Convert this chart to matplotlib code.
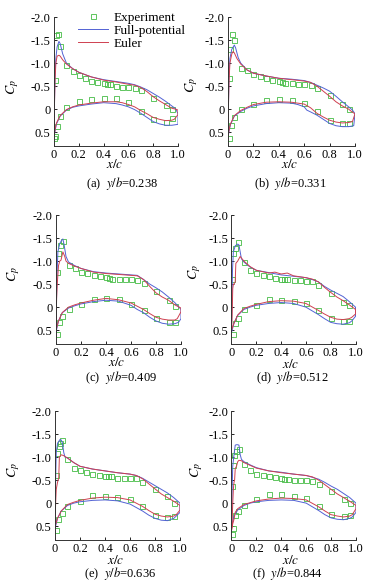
import matplotlib.pyplot as plt
import numpy as np

plt.rcParams['font.family'] = ['Liberation Serif', 'DejaVu Serif']
plt.rcParams['mathtext.fontset'] = 'stix'

# ---------------- data (Cp vs x/c) ----------------
# (a) y/b=0.238
a_exp_up_x = [0.008, 0.016, 0.035, 0.05, 0.1, 0.15, 0.2, 0.25, 0.3, 0.35, 0.4, 0.425, 0.45, 0.5, 0.55, 0.6, 0.65, 0.7, 0.8, 0.9, 0.95]
a_exp_up_cp = [-0.63, -1.62, -1.63, -1.37, -0.96, -0.83, -0.75, -0.68, -0.62, -0.59, -0.57, -0.55, -0.54, -0.51, -0.49, -0.49, -0.46, -0.42, -0.25, -0.10, 0.0]
a_exp_lo_x = [0.0, 0.005, 0.027, 0.05, 0.1, 0.2, 0.3, 0.4, 0.5, 0.6, 0.7, 0.8, 0.9, 0.95]
a_exp_lo_cp = [0.63, 0.59, 0.36, 0.15, -0.04, -0.17, -0.22, -0.24, -0.24, -0.16, 0.05, 0.21, 0.28, 0.19]
a_fp_up_x = [0.0, 0.003, 0.008, 0.015, 0.025, 0.04, 0.05, 0.07, 0.1, 0.15, 0.2, 0.3, 0.4, 0.5, 0.6, 0.65, 0.7, 0.75, 0.8, 0.85, 0.9, 0.95, 0.98, 1.0]
a_fp_up_cp = [0.6, 0.0, -0.7, -1.1, -1.35, -1.47, -1.42, -1.2, -1.0, -0.88, -0.8, -0.7, -0.64, -0.6, -0.56, -0.53, -0.48, -0.42, -0.34, -0.26, -0.17, -0.07, -0.01, 0.1]
a_fp_lo_x = [0.0, 0.01, 0.02, 0.05, 0.1, 0.15, 0.2, 0.3, 0.4, 0.5, 0.55, 0.6, 0.65, 0.7, 0.75, 0.8, 0.85, 0.9, 0.95, 1.0]
a_fp_lo_cp = [0.6, 0.45, 0.32, 0.15, 0.02, -0.04, -0.07, -0.11, -0.14, -0.12, -0.09, -0.05, 0.01, 0.09, 0.18, 0.27, 0.32, 0.35, 0.35, 0.33]
a_eu_up_x = [0.0, 0.003, 0.008, 0.015, 0.025, 0.04, 0.05, 0.07, 0.1, 0.15, 0.2, 0.3, 0.4, 0.5, 0.6, 0.65, 0.7, 0.75, 0.8, 0.85, 0.9, 0.95, 0.98, 1.0]
a_eu_up_cp = [0.6, 0.0, -0.6, -1.0, -1.15, -1.17, -1.15, -1.07, -0.98, -0.88, -0.8, -0.7, -0.63, -0.59, -0.54, -0.52, -0.47, -0.38, -0.27, -0.18, -0.1, -0.02, 0.0, 0.02]
a_eu_lo_x = [0.0, 0.01, 0.02, 0.05, 0.1, 0.15, 0.2, 0.3, 0.4, 0.5, 0.55, 0.6, 0.65, 0.7, 0.75, 0.8, 0.85, 0.9, 0.95, 0.97, 1.0]
a_eu_lo_cp = [0.6, 0.42, 0.3, 0.14, 0.01, -0.05, -0.09, -0.13, -0.16, -0.16, -0.14, -0.1, -0.05, 0.03, 0.1, 0.18, 0.22, 0.25, 0.24, 0.22, 0.12]

# (b) y/b=0.331
b_exp_up_x = [0.005, 0.016, 0.03, 0.047, 0.1, 0.15, 0.2, 0.25, 0.3, 0.35, 0.4, 0.425, 0.45, 0.5, 0.55, 0.6, 0.65, 0.7, 0.8, 0.9, 0.95]
b_exp_up_cp = [-0.67, -1.30, -1.63, -1.50, -0.89, -0.85, -0.77, -0.72, -0.67, -0.63, -0.61, -0.59, -0.57, -0.56, -0.55, -0.54, -0.53, -0.45, -0.30, -0.12, -0.01]
b_exp_lo_x = [0.005, 0.02, 0.047, 0.1, 0.2, 0.3, 0.4, 0.5, 0.6, 0.7, 0.8, 0.9, 0.95]
b_exp_lo_cp = [0.62, 0.35, 0.17, 0.0, -0.12, -0.20, -0.21, -0.20, -0.14, 0.05, 0.24, 0.30, 0.30]
b_fp_up_x = [0.0, 0.003, 0.008, 0.015, 0.03, 0.05, 0.06, 0.08, 0.1, 0.15, 0.2, 0.3, 0.4, 0.5, 0.6, 0.65, 0.7, 0.75, 0.8, 0.85, 0.9, 0.95, 0.98, 1.0]
b_fp_up_cp = [0.6, 0.0, -0.7, -1.1, -1.3, -1.39, -1.33, -1.12, -1.0, -0.85, -0.78, -0.72, -0.67, -0.65, -0.62, -0.58, -0.52, -0.46, -0.39, -0.28, -0.16, -0.05, 0.02, 0.1]
b_fp_lo_x = [0.0, 0.01, 0.02, 0.05, 0.1, 0.15, 0.2, 0.3, 0.4, 0.5, 0.55, 0.6, 0.62, 0.65, 0.7, 0.75, 0.8, 0.85, 0.9, 0.95, 0.99]
b_fp_lo_cp = [0.6, 0.45, 0.33, 0.15, 0.05, -0.02, -0.07, -0.12, -0.14, -0.13, -0.1, -0.05, 0.02, 0.06, 0.13, 0.22, 0.31, 0.36, 0.38, 0.38, 0.36]
b_eu_up_x = [0.0, 0.003, 0.008, 0.015, 0.03, 0.04, 0.05, 0.07, 0.1, 0.15, 0.2, 0.3, 0.4, 0.5, 0.6, 0.65, 0.7, 0.75, 0.8, 0.85, 0.9, 0.95, 0.976, 1.0]
b_eu_up_cp = [0.6, 0.0, -0.6, -1.0, -1.2, -1.25, -1.22, -1.1, -0.98, -0.85, -0.78, -0.72, -0.67, -0.64, -0.61, -0.58, -0.5, -0.39, -0.28, -0.16, -0.07, 0.0, 0.06, 0.1]
b_eu_lo_x = [0.0, 0.01, 0.02, 0.05, 0.1, 0.15, 0.2, 0.3, 0.4, 0.5, 0.6, 0.65, 0.7, 0.75, 0.8, 0.85, 0.9, 0.95, 0.98, 1.0]
b_eu_lo_cp = [0.6, 0.43, 0.32, 0.14, 0.03, -0.04, -0.1, -0.15, -0.16, -0.15, -0.11, -0.03, 0.09, 0.17, 0.24, 0.28, 0.3, 0.29, 0.27, 0.1]

# (c) y/b=0.409
c_exp_up_x = [0.01, 0.016, 0.03, 0.056, 0.1, 0.15, 0.2, 0.25, 0.3, 0.35, 0.4, 0.425, 0.45, 0.5, 0.55, 0.6, 0.65, 0.7, 0.8, 0.9, 0.95]
c_exp_up_cp = [-0.77, -1.18, -1.34, -1.43, -0.92, -0.86, -0.77, -0.74, -0.69, -0.67, -0.65, -0.63, -0.61, -0.61, -0.61, -0.61, -0.58, -0.52, -0.36, -0.15, -0.03]
c_exp_lo_x = [0.01, 0.025, 0.05, 0.1, 0.2, 0.3, 0.4, 0.5, 0.6, 0.7, 0.8, 0.9, 0.95]
c_exp_lo_cp = [0.58, 0.32, 0.20, 0.04, -0.07, -0.17, -0.20, -0.17, -0.06, 0.06, 0.23, 0.32, 0.32]
c_fp_up_x = [0.0, 0.003, 0.008, 0.015, 0.03, 0.045, 0.055, 0.065, 0.08, 0.1, 0.15, 0.2, 0.3, 0.4, 0.5, 0.6, 0.65, 0.7, 0.75, 0.8, 0.85, 0.9, 0.95, 1.0]
c_fp_up_cp = [0.55, 0.0, -0.7, -1.2, -1.38, -1.45, -1.48, -1.35, -1.1, -0.98, -0.9, -0.84, -0.77, -0.74, -0.72, -0.7, -0.69, -0.6, -0.5, -0.42, -0.33, -0.22, -0.1, 0.05]
c_fp_lo_x = [0.0, 0.01, 0.02, 0.05, 0.1, 0.15, 0.2, 0.3, 0.4, 0.5, 0.6, 0.65, 0.7, 0.75, 0.8, 0.85, 0.9, 0.95, 0.98, 1.0]
c_fp_lo_cp = [0.55, 0.42, 0.3, 0.12, 0.02, -0.03, -0.07, -0.12, -0.15, -0.13, -0.04, 0.05, 0.12, 0.22, 0.3, 0.35, 0.37, 0.36, 0.33, 0.25]
c_eu_up_x = [0.0, 0.005, 0.01, 0.02, 0.03, 0.04, 0.055, 0.07, 0.08, 0.1, 0.15, 0.2, 0.3, 0.4, 0.5, 0.6, 0.65, 0.7, 0.75, 0.8, 0.85, 0.9, 0.95, 1.0]
c_eu_up_cp = [0.5, -0.2, -0.5, -0.9, -1.0, -1.02, -1.2, -1.1, -1.0, -0.95, -0.89, -0.84, -0.76, -0.73, -0.71, -0.69, -0.68, -0.6, -0.45, -0.31, -0.22, -0.15, -0.05, 0.02]
c_eu_lo_x = [0.0, 0.01, 0.02, 0.05, 0.1, 0.15, 0.2, 0.3, 0.4, 0.5, 0.6, 0.7, 0.75, 0.8, 0.85, 0.9, 0.95, 0.97, 1.0]
c_eu_lo_cp = [0.5, 0.4, 0.3, 0.12, 0.0, -0.05, -0.09, -0.15, -0.19, -0.16, -0.09, 0.05, 0.14, 0.22, 0.26, 0.28, 0.28, 0.25, 0.1]

# (d) y/b=0.512
d_exp_up_x = [0.005, 0.016, 0.03, 0.054, 0.1, 0.15, 0.2, 0.25, 0.3, 0.35, 0.4, 0.425, 0.45, 0.5, 0.55, 0.6, 0.65, 0.7, 0.8, 0.9, 0.95]
d_exp_up_cp = [-0.60, -1.17, -1.28, -1.42, -0.98, -0.81, -0.74, -0.69, -0.67, -0.64, -0.62, -0.61, -0.61, -0.58, -0.58, -0.57, -0.56, -0.47, -0.31, -0.12, -0.04]
d_exp_lo_x = [0.01, 0.027, 0.054, 0.1, 0.2, 0.3, 0.4, 0.5, 0.6, 0.7, 0.8, 0.9, 0.95]
d_exp_lo_cp = [0.58, 0.34, 0.23, 0.04, -0.05, -0.18, -0.16, -0.13, -0.08, 0.07, 0.24, 0.31, 0.30]
d_fp_up_x = [0.0, 0.003, 0.008, 0.015, 0.03, 0.05, 0.06, 0.07, 0.08, 0.1, 0.15, 0.2, 0.3, 0.4, 0.5, 0.6, 0.65, 0.7, 0.75, 0.8, 0.85, 0.9, 0.95, 1.0]
d_fp_up_cp = [0.55, 0.0, -0.8, -1.2, -1.33, -1.37, -1.35, -1.2, -1.05, -0.98, -0.87, -0.8, -0.75, -0.7, -0.67, -0.64, -0.6, -0.55, -0.45, -0.37, -0.3, -0.23, -0.12, 0.0]
d_fp_lo_x = [0.0, 0.01, 0.02, 0.05, 0.1, 0.15, 0.2, 0.3, 0.4, 0.5, 0.6, 0.7, 0.75, 0.8, 0.85, 0.9, 0.95, 0.97, 1.0]
d_fp_lo_cp = [0.55, 0.45, 0.35, 0.18, 0.05, 0.0, -0.04, -0.08, -0.1, -0.08, 0.0, 0.16, 0.25, 0.33, 0.36, 0.37, 0.34, 0.3, 0.2]
d_eu_up_x = [0.0, 0.005, 0.01, 0.015, 0.02, 0.03, 0.035, 0.05, 0.07, 0.1, 0.15, 0.2, 0.3, 0.35, 0.4, 0.45, 0.5, 0.6, 0.65, 0.7, 0.75, 0.8, 0.85, 0.9, 0.95, 1.0]
d_eu_up_cp = [0.5, 0.2, -0.4, -0.5, -0.5, -0.55, -0.95, -1.0, -1.1, -1.0, -0.88, -0.8, -0.74, -0.76, -0.72, -0.74, -0.68, -0.64, -0.61, -0.55, -0.43, -0.32, -0.22, -0.14, -0.05, 0.05]
d_eu_lo_x = [0.0, 0.01, 0.02, 0.05, 0.1, 0.15, 0.2, 0.3, 0.4, 0.5, 0.6, 0.7, 0.75, 0.8, 0.85, 0.9, 0.95, 0.97, 1.0]
d_eu_lo_cp = [0.5, 0.42, 0.35, 0.17, 0.03, -0.02, -0.06, -0.12, -0.14, -0.13, -0.08, 0.07, 0.15, 0.22, 0.26, 0.27, 0.25, 0.22, 0.15]

# (e) y/b=0.636
e_exp_up_x = [0.01, 0.016, 0.03, 0.04, 0.053, 0.1, 0.15, 0.2, 0.25, 0.3, 0.35, 0.4, 0.425, 0.45, 0.5, 0.55, 0.6, 0.65, 0.7, 0.8, 0.9, 0.95]
e_exp_up_cp = [-0.62, -1.09, -1.24, -1.31, -1.38, -0.95, -0.77, -0.72, -0.67, -0.64, -0.61, -0.60, -0.58, -0.58, -0.55, -0.55, -0.55, -0.54, -0.45, -0.30, -0.16, -0.01]
e_exp_lo_x = [0.01, 0.027, 0.053, 0.1, 0.2, 0.3, 0.4, 0.5, 0.6, 0.7, 0.8, 0.9, 0.95]
e_exp_lo_cp = [0.58, 0.34, 0.22, 0.07, -0.05, -0.17, -0.16, -0.13, -0.08, 0.07, 0.25, 0.30, 0.28]
e_fp_up_x = [0.0, 0.005, 0.01, 0.02, 0.04, 0.05, 0.06, 0.07, 0.08, 0.1, 0.15, 0.2, 0.3, 0.4, 0.5, 0.6, 0.65, 0.7, 0.75, 0.8, 0.85, 0.9, 0.95, 1.0]
e_fp_up_cp = [0.55, -0.5, -1.1, -1.3, -1.38, -1.37, -1.3, -1.1, -1.0, -0.98, -0.88, -0.8, -0.74, -0.7, -0.66, -0.63, -0.6, -0.54, -0.46, -0.38, -0.3, -0.22, -0.12, 0.0]
e_fp_lo_x = [0.0, 0.01, 0.02, 0.05, 0.1, 0.15, 0.2, 0.3, 0.4, 0.5, 0.6, 0.7, 0.75, 0.8, 0.85, 0.9, 0.95, 0.97, 1.0]
e_fp_lo_cp = [0.55, 0.44, 0.33, 0.17, 0.05, 0.0, -0.03, -0.06, -0.07, -0.05, 0.02, 0.17, 0.26, 0.33, 0.37, 0.38, 0.33, 0.28, 0.2]
e_eu_up_x = [0.0, 0.005, 0.01, 0.02, 0.03, 0.035, 0.05, 0.07, 0.1, 0.15, 0.2, 0.3, 0.4, 0.5, 0.6, 0.65, 0.7, 0.75, 0.8, 0.85, 0.9, 0.95, 1.0]
e_eu_up_cp = [0.5, 0.0, -0.3, -0.45, -0.55, -1.0, -1.05, -1.03, -0.98, -0.88, -0.8, -0.74, -0.7, -0.66, -0.63, -0.6, -0.53, -0.42, -0.31, -0.2, -0.12, -0.04, 0.05]
e_eu_lo_x = [0.0, 0.01, 0.02, 0.05, 0.1, 0.15, 0.2, 0.3, 0.4, 0.5, 0.6, 0.7, 0.75, 0.8, 0.85, 0.9, 0.95, 0.97, 1.0]
e_eu_lo_cp = [0.5, 0.42, 0.33, 0.17, 0.03, -0.02, -0.06, -0.11, -0.13, -0.12, -0.07, 0.07, 0.16, 0.24, 0.28, 0.3, 0.28, 0.25, 0.15]

# (f) y/b=0.844
f_exp_up_x = [0.005, 0.01, 0.02, 0.04, 0.06, 0.1, 0.15, 0.2, 0.25, 0.3, 0.35, 0.4, 0.425, 0.45, 0.5, 0.55, 0.6, 0.65, 0.7, 0.8, 0.9, 0.95]
f_exp_up_cp = [-0.38, -0.83, -1.04, -1.13, -1.17, -0.85, -0.72, -0.63, -0.61, -0.58, -0.57, -0.55, -0.53, -0.52, -0.51, -0.51, -0.51, -0.49, -0.42, -0.26, -0.09, 0.0]
f_exp_lo_x = [0.005, 0.01, 0.027, 0.053, 0.1, 0.2, 0.3, 0.4, 0.5, 0.6, 0.7, 0.8, 0.9, 0.95]
f_exp_lo_cp = [0.66, 0.55, 0.26, 0.17, 0.04, -0.09, -0.20, -0.19, -0.15, -0.11, 0.06, 0.23, 0.28, 0.26]
f_fp_up_x = [0.0, 0.005, 0.01, 0.02, 0.03, 0.045, 0.06, 0.07, 0.08, 0.1, 0.15, 0.2, 0.3, 0.4, 0.5, 0.6, 0.65, 0.7, 0.75, 0.8, 0.85, 0.9, 0.95, 1.0]
f_fp_up_cp = [0.5, -0.3, -0.8, -1.05, -1.26, -1.27, -1.26, -1.05, -0.95, -0.9, -0.83, -0.77, -0.7, -0.67, -0.63, -0.6, -0.56, -0.52, -0.45, -0.37, -0.3, -0.21, -0.12, 0.0]
f_fp_lo_x = [0.0, 0.01, 0.02, 0.05, 0.1, 0.15, 0.2, 0.3, 0.4, 0.5, 0.6, 0.7, 0.75, 0.8, 0.85, 0.9, 0.95, 0.97, 1.0]
f_fp_lo_cp = [0.5, 0.4, 0.28, 0.15, 0.05, 0.0, -0.03, -0.06, -0.07, -0.06, 0.0, 0.16, 0.25, 0.32, 0.35, 0.36, 0.33, 0.3, 0.2]
f_eu_up_x = [0.0, 0.005, 0.01, 0.015, 0.02, 0.025, 0.03, 0.04, 0.05, 0.06, 0.08, 0.1, 0.15, 0.2, 0.3, 0.4, 0.5, 0.6, 0.65, 0.7, 0.75, 0.8, 0.85, 0.9, 0.95, 1.0]
f_eu_up_cp = [0.6, 0.4, 0.0, -0.3, -0.45, -0.5, -0.75, -0.8, -0.9, -0.93, -0.92, -0.88, -0.82, -0.76, -0.7, -0.66, -0.63, -0.6, -0.57, -0.5, -0.4, -0.3, -0.2, -0.12, -0.04, 0.05]
f_eu_lo_x = [0.0, 0.01, 0.02, 0.03, 0.05, 0.1, 0.15, 0.2, 0.3, 0.4, 0.5, 0.6, 0.7, 0.75, 0.8, 0.85, 0.9, 0.95, 0.97, 1.0]
f_eu_lo_cp = [0.6, 0.45, 0.35, 0.2, 0.12, 0.03, -0.01, -0.05, -0.09, -0.11, -0.1, -0.07, 0.08, 0.17, 0.25, 0.28, 0.3, 0.28, 0.25, 0.12]

labels = ['(a)', '(b)', '(c)', '(d)', '(e)', '(f)']
stations = ['0.238', '0.331', '0.409', '0.512', '0.636', '0.844']

panels = [
    (a_exp_up_x, a_exp_up_cp, a_exp_lo_x, a_exp_lo_cp, a_fp_up_x, a_fp_up_cp, a_fp_lo_x, a_fp_lo_cp, a_eu_up_x, a_eu_up_cp, a_eu_lo_x, a_eu_lo_cp),
    (b_exp_up_x, b_exp_up_cp, b_exp_lo_x, b_exp_lo_cp, b_fp_up_x, b_fp_up_cp, b_fp_lo_x, b_fp_lo_cp, b_eu_up_x, b_eu_up_cp, b_eu_lo_x, b_eu_lo_cp),
    (c_exp_up_x, c_exp_up_cp, c_exp_lo_x, c_exp_lo_cp, c_fp_up_x, c_fp_up_cp, c_fp_lo_x, c_fp_lo_cp, c_eu_up_x, c_eu_up_cp, c_eu_lo_x, c_eu_lo_cp),
    (d_exp_up_x, d_exp_up_cp, d_exp_lo_x, d_exp_lo_cp, d_fp_up_x, d_fp_up_cp, d_fp_lo_x, d_fp_lo_cp, d_eu_up_x, d_eu_up_cp, d_eu_lo_x, d_eu_lo_cp),
    (e_exp_up_x, e_exp_up_cp, e_exp_lo_x, e_exp_lo_cp, e_fp_up_x, e_fp_up_cp, e_fp_lo_x, e_fp_lo_cp, e_eu_up_x, e_eu_up_cp, e_eu_lo_x, e_eu_lo_cp),
    (f_exp_up_x, f_exp_up_cp, f_exp_lo_x, f_exp_lo_cp, f_fp_up_x, f_fp_up_cp, f_fp_lo_x, f_fp_lo_cp, f_eu_up_x, f_eu_up_cp, f_eu_lo_x, f_eu_lo_cp),
]

# layout in pixels: (left, top, right, bottom) of each axes
W, H = 392, 588
boxes = [(54, 17, 178, 146), (228, 17, 355, 146),
         (56, 215, 181, 344), (231.5, 215, 355.5, 344),
         (55, 411, 180, 540), (231.5, 411, 356, 540)]
ylab_pos = [(13, 87), (192, 85), (14, 274), (195, 272), (14, 470), (197, 470)]
xlab_pos = [(115, 165), (290, 165), (117, 363), (291, 364), (116, 560), (291, 560)]
cap_pos = [(122, 183), (290, 183), (121, 378), (292, 378), (120, 574), (288, 574)]

GREEN = '#44bb44'
BLUE = '#5262d4'
RED = '#cf4050'

fig = plt.figure(figsize=(W / 100, H / 100), dpi=100)
fig.patch.set_facecolor('white')

for i, p in enumerate(panels):
    ex_ux, ex_ucp, ex_lx, ex_lcp, fp_ux, fp_ucp, fp_lx, fp_lcp, eu_ux, eu_ucp, eu_lx, eu_lcp = p
    l, t, r, b = boxes[i]
    ax = fig.add_axes([l / W, 1 - b / H, (r - l) / W, (b - t) / H])

    ax.plot(ex_ux + ex_lx, ex_ucp + ex_lcp, ls='none', marker='s', ms=3.6, mfc='none',
            mec=GREEN, mew=0.6, label='Experiment')
    ax.plot(fp_ux + fp_lx[::-1], fp_ucp + fp_lcp[::-1], color=BLUE, lw=0.7, label='Full-potential')
    ax.plot(eu_ux + eu_lx[::-1], eu_ucp + eu_lcp[::-1], color=RED, lw=0.7, label='Euler')

    ax.set_xlim(0, 1.0)
    ax.set_ylim(0.8, -2.0)
    ax.set_xticks([0, 0.2, 0.4, 0.6, 0.8, 1.0])
    ax.set_xticklabels(['0', '0.2', '0.4', '0.6', '0.8', '1.0'])
    ax.set_yticks([-2.0, -1.5, -1.0, -0.5, 0, 0.5])
    ax.set_yticklabels(['-2.0', '-1.5', '-1.0', '-0.5', '0', '0.5'])
    ax.tick_params(direction='in', length=2.5, width=0.6, labelsize=9, pad=2.5)
    ax.spines['top'].set_visible(False)
    ax.spines['right'].set_visible(False)
    for s in ('left', 'bottom'):
        ax.spines[s].set_linewidth(0.7)
        ax.spines[s].set_color('#333333')

    if i == 0:
        ax.legend(loc='upper left', bbox_to_anchor=(0.19, 1.04), frameon=False, fontsize=9.5,
                  handlelength=2.3, handletextpad=0.4, labelspacing=0.05, borderpad=0, borderaxespad=0)

    fig.text(ylab_pos[i][0] / W, 1 - ylab_pos[i][1] / H, r'$C_p$', rotation=90,
             ha='center', va='center', fontsize=10)
    fig.text(xlab_pos[i][0] / W, 1 - xlab_pos[i][1] / H, r'$x/c$', ha='center', va='center', fontsize=9.5)
    fig.text(cap_pos[i][0] / W, 1 - cap_pos[i][1] / H,
             labels[i] + r'  $y/b$=' + stations[i], ha='center', va='center', fontsize=9)

fig.savefig('out.png', dpi=100, facecolor='white')
